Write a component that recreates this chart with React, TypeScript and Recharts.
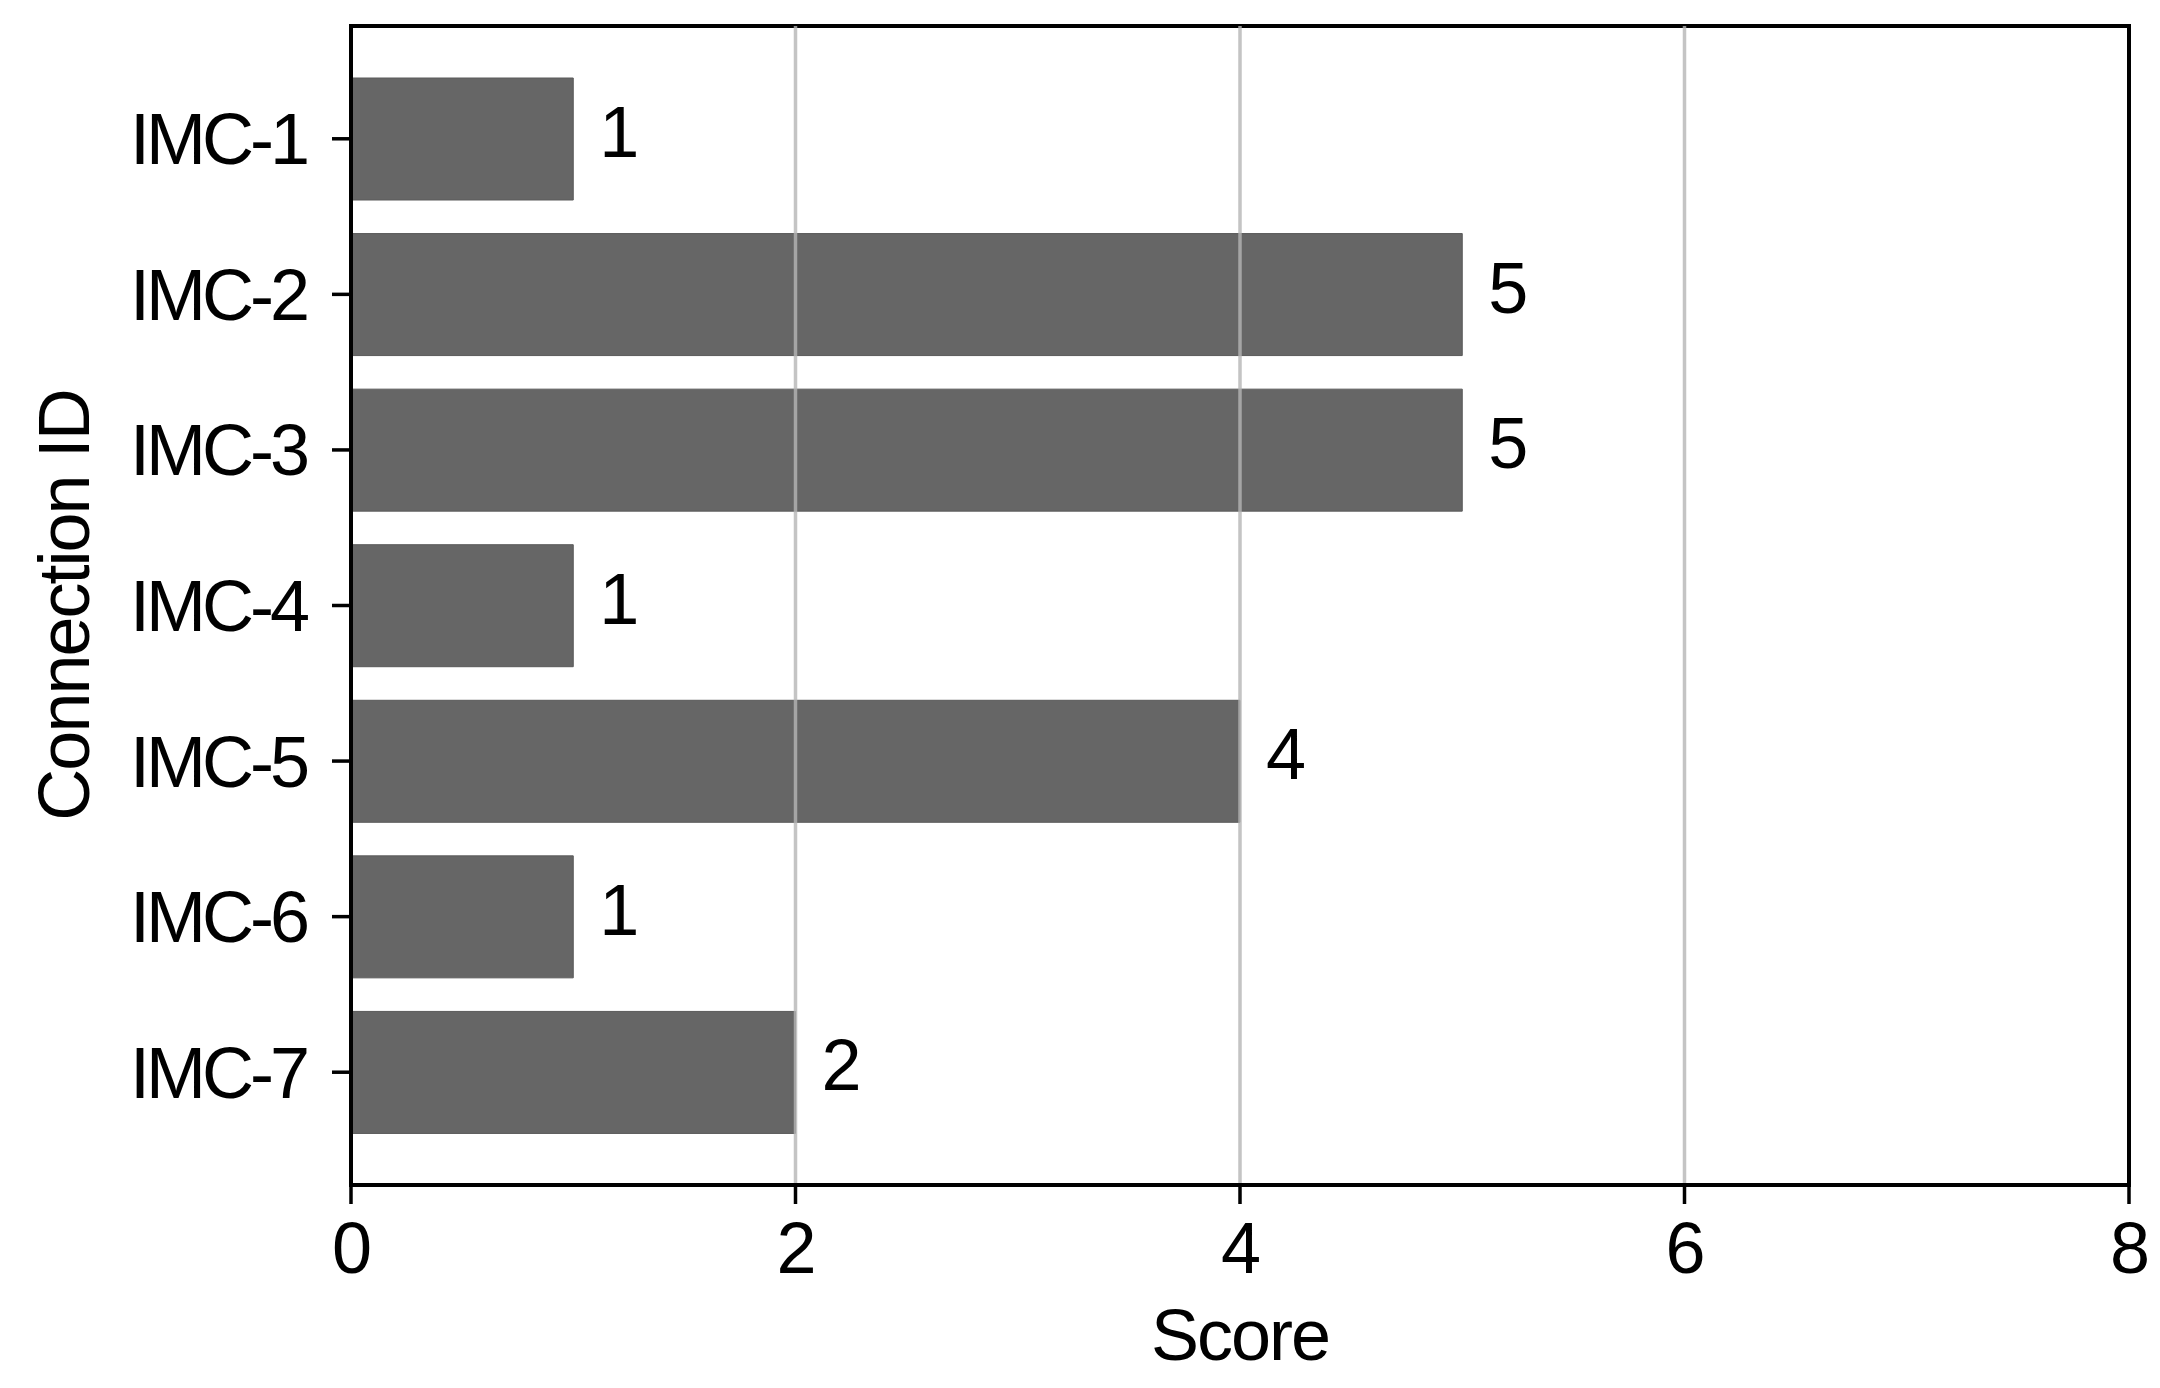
import { BarChart, Bar, XAxis, YAxis, ReferenceLine, ReferenceArea, LabelList } from "recharts";

const connections = ["IMC-1", "IMC-2", "IMC-3", "IMC-4", "IMC-5", "IMC-6", "IMC-7"];
const scores = [1, 5, 5, 1, 4, 1, 2];
const scoreTicks = [0, 2, 4, 6, 8];
const gridValues = [2, 4, 6];

const data = connections.map((name, i) => ({ name, score: scores[i] }));

const FONT = '"Liberation Sans", Arial, Helvetica, sans-serif';
const textStyle = { fontFamily: FONT, fontSize: 72, letterSpacing: -2, fill: "#000" };
const axisLine = { stroke: "#000", strokeWidth: 4 };
const tickLine = { stroke: "#000", strokeWidth: 3.5 };

// value printed just right of each bar
const renderValue = (props: any) => {
  const { x, y, width, height, value } = props;
  return (
    <text
      x={Number(x) + Number(width) + 26}
      y={Number(y) + Number(height) / 2 + 18}
      fontFamily={FONT}
      fontSize={72}
      fill="#000"
    >
      {value}
    </text>
  );
};

export default function App() {
  return (
    <div style={{ position: "absolute", left: 0, top: 0, background: "#fff" }}>
      <BarChart
        width={2160}
        height={1388}
        data={data}
        layout="vertical"
        margin={{ top: 26, right: 31, bottom: 28, left: 0 }}
      >
        <XAxis
          type="number"
          domain={[0, 8]}
          ticks={scoreTicks}
          height={175}
          tickSize={19}
          tickMargin={18}
          tick={textStyle}
          axisLine={axisLine}
          tickLine={tickLine}
          label={{ value: "Score", position: "insideBottom", offset: 0, style: textStyle }}
        />
        <YAxis
          type="category"
          dataKey="name"
          width={351}
          padding={{ top: 35, bottom: 35 }}
          tickSize={19}
          tickMargin={26}
          tick={{ ...textStyle, letterSpacing: -4 }}
          axisLine={axisLine}
          tickLine={tickLine}
          label={{
            value: "Connection ID",
            angle: -90,
            position: "insideLeft",
            offset: 63,
            style: { ...textStyle, textAnchor: "middle" },
          }}
        />
        {/* plain 0..1 axis, only used to draw the frame round the plot */}
        <YAxis yAxisId="frame" type="number" domain={[0, 1]} allowDataOverflow hide />
        <Bar
          dataKey="score"
          fill="#666666"
          stroke="#5a5a5a"
          strokeWidth={1}
          barSize={122}
          isAnimationActive={false}
        >
          <LabelList dataKey="score" content={renderValue} />
        </Bar>
        {gridValues.map((v) => (
          <ReferenceLine key={v} x={v} stroke="#b5b5b5" strokeOpacity={0.8} strokeWidth={3.5} />
        ))}
        <ReferenceArea
          yAxisId="frame"
          x1={0}
          x2={8}
          ifOverflow="visible"
          fill="none"
          fillOpacity={0}
          stroke="#000"
          strokeWidth={4}
        />
      </BarChart>
    </div>
  );
}
